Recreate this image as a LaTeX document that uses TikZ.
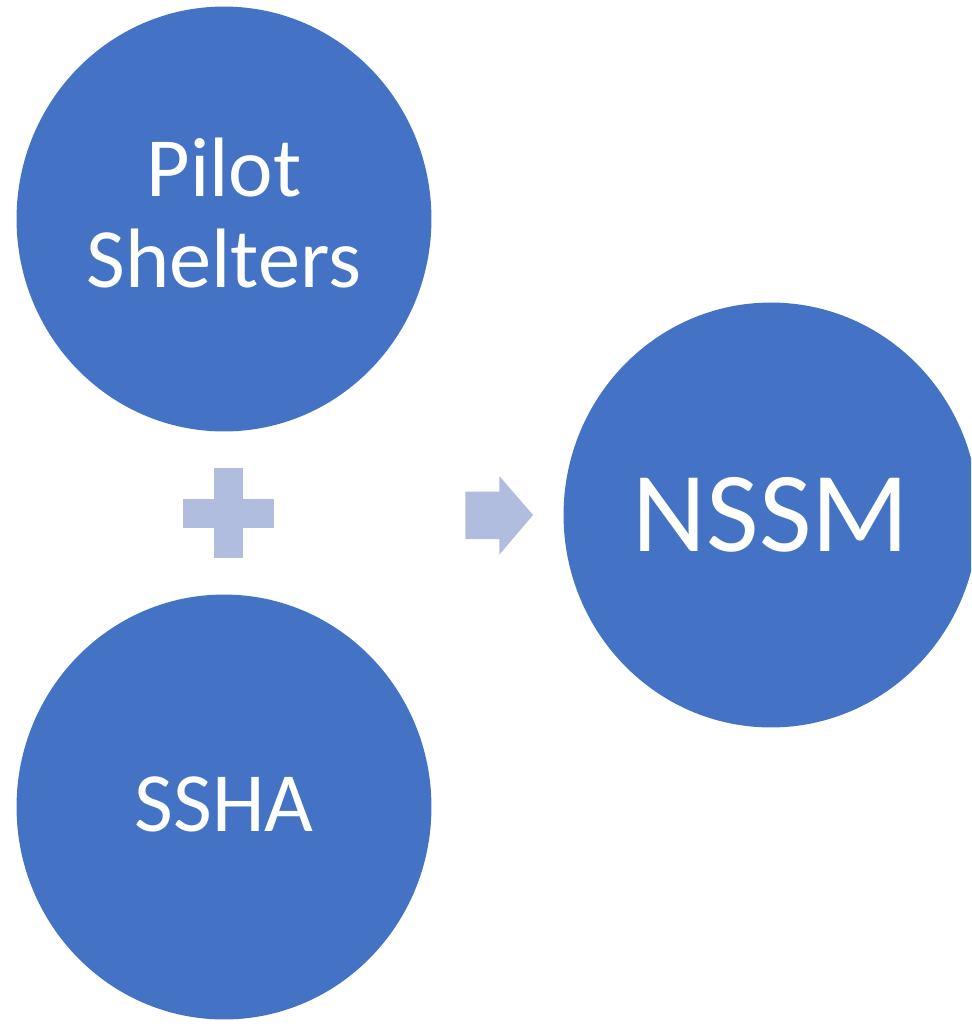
\documentclass[tikz,border=0pt]{standalone}
\usepackage{fontspec}
\setmainfont{Carlito}
\usetikzlibrary{shapes.geometric}
\definecolor{bubbleblue}{HTML}{4472C4}
\definecolor{signblue}{HTML}{B0BDDF}
\tikzstyle{bubble} = [ellipse, minimum width=8.3cm, minimum height=8.5cm, inner sep=0pt, fill=bubbleblue, text=white, align=center, font=\fontsize{48}{52}\selectfont]
\tikzstyle{sign} = [fill=signblue, draw=none]

\begin{document}
\begin{tikzpicture}[x=0.02cm, y=-0.02cm] % one unit is one pixel of the reference

    \clip (0,0) rectangle (971,1024);

    \node (pilot) [bubble, text depth=0.24cm] at (224,219) {Pilot\\Shelters};
    \node (ssha) [bubble, text depth=0.1cm] at (224,807) {SSHA};
    \node (nssm) [bubble, font=\fontsize{65}{70}\selectfont] at (771,515) {NSSM};

    % plus between the two left bubbles
    \fill[sign] (183,498.7) rectangle (273.7,527.7);
    \fill[sign] (214,468) rectangle (242.7,558);

    % arrow towards NSSM
    \fill[sign] (465.3,491.7) -- (499.3,491.7) -- (499.3,476) -- (533,515)
        -- (499.3,554.7) -- (499.3,539) -- (465.3,539) -- cycle;

\end{tikzpicture}
\end{document}
